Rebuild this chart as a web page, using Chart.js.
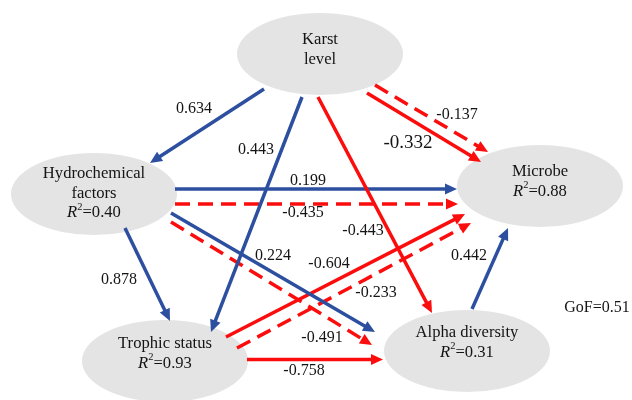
<!DOCTYPE html>
<html>
<head>
<meta charset="utf-8">
<script src="https://cdn.jsdelivr.net/npm/chart.js@4.4.1/dist/chart.umd.min.js"></script>
<style>
  html, body { margin: 0; padding: 0; background: #ffffff; }
  #wrap { width: 632px; height: 400px; position: relative; }
</style>
</head>
<body>
<div id="wrap"><canvas id="pathChart"></canvas></div>
<script>
// ---- Path model: latent variables ----
const nodeLines = [
  ['Karst', 'level'],
  ['Hydrochemical', 'factors'],
  ['Trophic status'],
  ['Alpha diversity'],
  ['Microbe']
];
const nodeR2 = [null, '0.40', '0.93', '0.31', '0.88'];

// layout of the diagram (plot units)
const nodeX = [320, 94, 165, 467, 540];
const nodeY = [54, 194, 361, 351, 186];
const nodeTextTop = [40, 174, 344, 333, 172];

// ---- Path coefficients ----
const edgeFrom = [0, 0, 0, 0, 0, 1, 1, 1, 1, 1, 2, 2, 2, 3];
const edgeTo   = [1, 2, 4, 4, 3, 4, 4, 3, 3, 2, 4, 4, 3, 4];
const edgeCoef = [0.634, 0.443, -0.137, -0.332, -0.443, 0.199, -0.435, 0.224, -0.491, 0.878, -0.604, -0.233, -0.758, 0.442];
const edgeIndirect = [false, false, true, false, false, false, true, false, true, false, false, true, false, false];

// arrow routing (start and arrow tip) and coefficient label anchors
const edgeStartX = [264, 302, 375, 367, 318, 175, 175, 171, 171, 125, 226, 237, 247, 472];
const edgeStartY = [ 89,  97,  85,  93,  97, 189, 204, 213, 222, 228, 337, 348, 359.5, 309];
const edgeTipX   = [150, 211, 488, 481, 432, 457, 458, 375, 372, 170, 465, 471, 383, 508];
const edgeTipY   = [163, 332, 152, 162, 313, 189, 204, 332, 345, 321, 214, 223, 359.5, 228];
const labelX = [194, 256, 457, 408, 363, 308, 303, 273, 322, 119, 329, 376, 304, 469];
const labelY = [109, 150, 115, 143, 231, 181, 213, 256, 338, 280, 264, 293, 371, 256];

const gofText = 'GoF=0.51';
const gofX = 597, gofY = 308;

// ---- styling ----
const BLUE = '#2c4f9f';
const RED = '#fb0d0d';
const NODE_FILL = '#e4e4e4';
const TEXT = '#141414';
const FONT = '"Liberation Serif", "Times New Roman", serif';
const NODE_FONT = 16.6;
const NODE_RX = 83, NODE_RY = 41;
const ARROW_LEN = 12, ARROW_HALF = 5.5;

const datasets = edgeCoef.map((c, i) => ({
  label: 'path' + i,
  data: [{ x: edgeStartX[i], y: edgeStartY[i] }, { x: edgeTipX[i], y: edgeTipY[i] }],
  showLine: true,
  borderColor: c >= 0 ? BLUE : RED,
  backgroundColor: c >= 0 ? BLUE : RED,
  borderWidth: 3.5,
  borderDash: edgeIndirect[i] ? [15, 8] : [],
  borderCapStyle: 'butt',
  pointRadius: 0,
  pointHoverRadius: 0,
  fill: false,
  tension: 0
}));

function drawR2(ctx, cx, y, val) {
  ctx.font = 'italic ' + NODE_FONT + 'px ' + FONT;
  const wR = ctx.measureText('R').width;
  ctx.font = '10.5px ' + FONT;
  const w2 = ctx.measureText('2').width;
  ctx.font = NODE_FONT + 'px ' + FONT;
  const rest = '=' + val;
  const wRest = ctx.measureText(rest).width;
  let x = cx - (wR + w2 + wRest) / 2;
  ctx.textAlign = 'left';
  ctx.font = 'italic ' + NODE_FONT + 'px ' + FONT;
  ctx.fillText('R', x, y);
  x += wR;
  ctx.font = '10.5px ' + FONT;
  ctx.fillText('2', x, y - 6);
  x += w2;
  ctx.font = NODE_FONT + 'px ' + FONT;
  ctx.fillText(rest, x, y);
}

const pathDiagram = {
  id: 'pathDiagram',
  afterDatasetsUpdate(chart) {
    // stop each shaft where its arrowhead begins
    const xs = chart.scales.x, ys = chart.scales.y;
    chart.data.datasets.forEach((ds, i) => {
      const meta = chart.getDatasetMeta(i);
      const sx = xs.getPixelForValue(edgeStartX[i]), sy = ys.getPixelForValue(edgeStartY[i]);
      const tx = xs.getPixelForValue(edgeTipX[i]), ty = ys.getPixelForValue(edgeTipY[i]);
      const len = Math.hypot(tx - sx, ty - sy);
      const ux = (tx - sx) / len, uy = (ty - sy) / len;
      const end = meta.data[1];
      end.x = tx - ux * (ARROW_LEN - 2);
      end.y = ty - uy * (ARROW_LEN - 2);
      if (meta.dataset) meta.dataset._path = undefined;
    });
  },
  beforeDatasetsDraw(chart) {
    const ctx = chart.ctx, xs = chart.scales.x, ys = chart.scales.y;
    ctx.save();
    ctx.fillStyle = NODE_FILL;
    nodeX.forEach((nx, i) => {
      const px = xs.getPixelForValue(nx), py = ys.getPixelForValue(nodeY[i]);
      const rx = xs.getPixelForValue(nx + NODE_RX) - px;
      const ry = ys.getPixelForValue(nodeY[i] + NODE_RY) - py;
      ctx.beginPath();
      ctx.ellipse(px, py, Math.abs(rx), Math.abs(ry), 0, 0, Math.PI * 2);
      ctx.fill();
    });
    ctx.restore();
  },
  afterDatasetsDraw(chart) {
    const ctx = chart.ctx, xs = chart.scales.x, ys = chart.scales.y;
    ctx.save();
    // arrowheads
    edgeCoef.forEach((c, i) => {
      const sx = xs.getPixelForValue(edgeStartX[i]), sy = ys.getPixelForValue(edgeStartY[i]);
      const tx = xs.getPixelForValue(edgeTipX[i]), ty = ys.getPixelForValue(edgeTipY[i]);
      const a = Math.atan2(ty - sy, tx - sx);
      const bx = tx - Math.cos(a) * ARROW_LEN, by = ty - Math.sin(a) * ARROW_LEN;
      ctx.fillStyle = c >= 0 ? BLUE : RED;
      ctx.beginPath();
      ctx.moveTo(tx, ty);
      ctx.lineTo(bx + Math.sin(a) * ARROW_HALF, by - Math.cos(a) * ARROW_HALF);
      ctx.lineTo(bx - Math.sin(a) * ARROW_HALF, by + Math.cos(a) * ARROW_HALF);
      ctx.closePath();
      ctx.fill();
    });
    // coefficient labels
    ctx.fillStyle = TEXT;
    ctx.textAlign = 'center';
    ctx.textBaseline = 'middle';
    edgeCoef.forEach((c, i) => {
      const size = Math.abs(c) === 0.332 ? 19 : 16;
      ctx.font = size + 'px ' + FONT;
      ctx.fillText(c.toFixed(3), xs.getPixelForValue(labelX[i]), ys.getPixelForValue(labelY[i]));
    });
    // node captions
    nodeLines.forEach((lines, i) => {
      const px = xs.getPixelForValue(nodeX[i]);
      let y = ys.getPixelForValue(nodeTextTop[i]);
      ctx.textAlign = 'center';
      ctx.font = NODE_FONT + 'px ' + FONT;
      lines.forEach(t => { ctx.fillText(t, px, y); y += 19.5; });
      if (nodeR2[i] !== null) drawR2(ctx, px, y, nodeR2[i]);
    });
    ctx.textAlign = 'center';
    ctx.font = '16px ' + FONT;
    ctx.fillText(gofText, xs.getPixelForValue(gofX), ys.getPixelForValue(gofY));
    ctx.restore();
  }
};

new Chart(document.getElementById('pathChart'), {
  type: 'scatter',
  data: { datasets },
  options: {
    responsive: true,
    maintainAspectRatio: false,
    animation: false,
    events: [],
    layout: { padding: 0 },
    plugins: { legend: { display: false }, tooltip: { enabled: false }, title: { display: false } },
    scales: {
      x: { type: 'linear', min: 0, max: 632, display: false },
      y: { type: 'linear', min: 0, max: 400, reverse: true, display: false }
    }
  },
  plugins: [pathDiagram]
});
</script>
</body>
</html>
